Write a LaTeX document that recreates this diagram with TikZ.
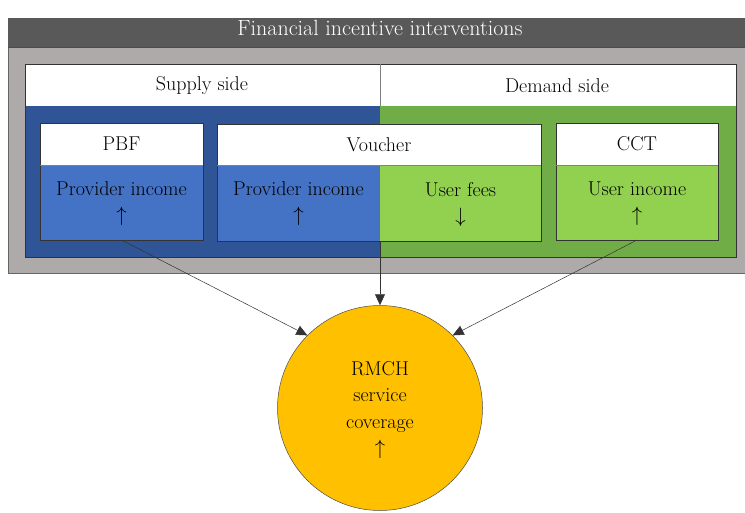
\documentclass[tikz,border=0pt]{standalone}
\usetikzlibrary{arrows.meta}
\definecolor{titlegray}{HTML}{595959}
\definecolor{bodygray}{HTML}{AEAAAA}
\definecolor{darkblue}{HTML}{2F5597}
\definecolor{darkgreen}{HTML}{70AD47}
\definecolor{midblue}{HTML}{4472C4}
\definecolor{lightgreen}{HTML}{92D050}
\definecolor{gold}{HTML}{FFC000}
\begin{document}
\begin{tikzpicture}[x=1pt,y=-1pt,
  txt/.style={font=\fontsize{20}{22}\selectfont, inner sep=0pt},
  edge/.style={draw=black!80, line width=0.5pt},
  conn/.style={draw=black!80, line width=0.5pt, -{Triangle[length=11pt,width=10pt]}}]
\useasboundingbox (0,0) rectangle (745,512);
% outer container
\fill[bodygray] (8,18) rectangle (745,273);
\draw[black!60, line width=0.6pt] (8,273) -- (8,18) -- (745,18);
\draw[black!60, line width=0.6pt] (8,273) -- (745,273);
\fill[titlegray] (8,18) rectangle (745,47);
\draw[black!70, line width=0.5pt] (8,47) -- (745,47);
\node[txt, text=white, font=\fontsize{22}{24}\selectfont] (title) at (380,28) {Financial incentive interventions};
% side panels
\fill[white] (25,64) rectangle (736,106);
\fill[darkblue] (25,106) rectangle (380,257);
\fill[darkgreen] (380,106) rectangle (736,257);
\draw[edge] (25,64) rectangle (736,257);
\draw[black!50, line width=0.5pt] (380,64) -- (380,106);
\node[txt] (supply) at (202,86) {Supply side};
\node[txt] (demand) at (557,86) {Demand side};
% PBF
\fill[white] (40,123) rectangle (203,165);
\fill[midblue] (40,165) rectangle (203,240);
\draw[edge] (40,123) rectangle (203,240);
\draw[black!50, line width=0.5pt] (40,165) -- (203,165);
\node[txt] (pbf) at (121.5,144) {PBF};
\node[txt, align=center] (pbftext) at (121.5,204) {Provider income\\[4pt]$\uparrow$};
\coordinate (pbfb) at (121.5,240);
% Voucher
\fill[white] (217,124) rectangle (541,165);
\fill[midblue] (217,165) rectangle (380,241);
\fill[lightgreen] (380,165) rectangle (541,241);
\draw[edge] (217,124) rectangle (541,241);
\draw[black!50, line width=0.5pt] (217,165) -- (541,165);
\node[txt] (voucher) at (379,145) {Voucher};
\node[txt, align=center] (vprov) at (298.5,204) {Provider income\\[4pt]$\uparrow$};
\node[txt, align=center] (vfees) at (460.5,204) {User fees\\[4pt]$\downarrow$};
\coordinate (vb) at (380,241);
% CCT
\fill[white] (556,123) rectangle (718,165);
\fill[lightgreen] (556,165) rectangle (718,240);
\draw[edge] (556,123) rectangle (718,240);
\draw[black!50, line width=0.5pt] (556,165) -- (718,165);
\node[txt] (cct) at (637,144) {CCT};
\node[txt, align=center] (ccttext) at (637,204) {User income\\[4pt]$\uparrow$};
\coordinate (cctb) at (637,240);
% circle
\node[circle, fill=gold, draw=black!70, line width=0.5pt, minimum size=205pt, inner sep=0pt] (rmch) at (380,408) {};
\node[txt, align=center, font=\fontsize{20}{26.5}\selectfont] (rmchtext) at (380,410) {RMCH\\service\\coverage\\$\uparrow$};
% connectors
\draw[conn] (pbfb) -- (rmch.north west);
\draw[conn] (vb) -- (rmch.north);
\draw[conn] (cctb) -- (rmch.north east);
\end{tikzpicture}
\end{document}
